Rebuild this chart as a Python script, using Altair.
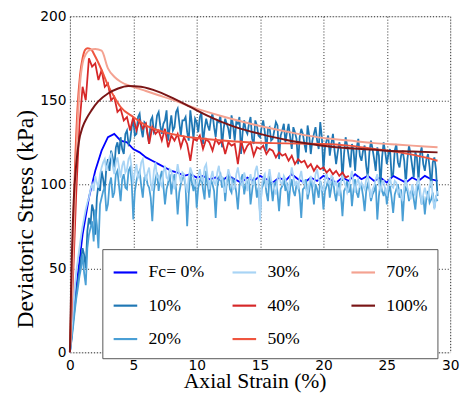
import altair as alt
import pandas as pd

# ---------------- data ----------------
SERIES = ["Fc= 0%", "10%", "20%", "30%", "40%", "50%", "70%", "100%"]
COLORS = {
    "Fc= 0%": "#0000ff",
    "10%": "#1f77b4",
    "20%": "#4a9fd5",
    "30%": "#a8d4f5",
    "40%": "#d62728",
    "50%": "#ef553f",
    "70%": "#f4a291",
    "100%": "#7a1516",
}

# sampling grids of the recorded strain (%)
STRAIN_E = [i / 8 for i in range(233)]    # every 0.125 %
STRAIN_Q40 = [i / 4 for i in range(89)]   # every 0.25 %
STRAIN_H = [i / 2 for i in range(59)]     # every 0.5 %

S0 = [0, 38, 70, 92, 108, 120, 128, 130, 126, 125, 121, 119, 116, 114, 112,
      110, 108, 107, 105, 106, 104, 105, 103, 104, 102, 105, 103, 101, 104, 102,
      105, 103, 101, 104, 102, 106, 103, 101, 104, 102, 105, 103, 101, 104, 102,
      106, 103, 105, 102, 104, 101, 105, 103, 101, 104, 102, 105, 103, 102]

S10 = [0, 8, 18, 26, 35, 42, 48, 55,
       62, 58, 50, 72, 80, 76, 88, 84,
       70, 92, 100, 96, 108, 103, 96, 110,
       115, 108, 120, 116, 110, 122, 125, 118,
       128, 121, 118, 130, 132, 124, 126, 134,
       138, 129, 130, 140, 142, 133, 128, 137,
       136, 130, 124, 138, 140, 131, 133, 141,
       143, 135, 130, 136, 138, 144, 126, 134,
       141, 132, 134, 143, 145, 137, 129, 138,
       138, 140, 131, 126, 144, 136, 127, 139,
       137, 131, 140, 143, 124, 133, 139, 135,
       132, 139, 142, 134, 128, 138, 137, 141,
       122, 133, 139, 136, 133, 127, 141, 135,
       126, 137, 136, 140, 118, 131, 138, 132,
       130, 136, 140, 127, 124, 138, 135, 129,
       128, 134, 138, 131, 120, 133, 134, 126,
       127, 132, 137, 135, 115, 129, 132, 136,
       125, 131, 136, 128, 121, 134, 131, 127,
       112, 128, 133, 130, 124, 119, 135, 129,
       118, 126, 130, 134, 126, 121, 137, 128,
       108, 122, 126, 129, 117, 124, 130, 120,
       112, 119, 125, 121, 102, 118, 128, 123,
       116, 110, 124, 120, 108, 122, 127, 117,
       114, 120, 123, 111, 104, 119, 126, 121,
       115, 108, 122, 117, 99, 116, 125, 119,
       112, 118, 121, 105, 106, 120, 124, 113,
       110, 117, 120, 114, 100, 115, 123, 118,
       111, 104, 119, 116, 102, 118, 122, 112,
       108, 115, 118, 110, 98, 113, 116, 109,
       93]

S20 = [0, 7, 15, 24, 32, 38, 45, 50,
       58, 47, 40, 62, 70, 74, 78, 66,
       85, 76, 62, 88, 92, 96, 98, 84,
       88, 100, 104, 92, 95, 106, 108, 99,
       90, 103, 106, 98, 97, 108, 110, 101,
       79, 96, 102, 106, 108, 99, 92, 104,
       105, 100, 98, 92, 78, 96, 103, 107,
       96, 104, 108, 99, 88, 97, 101, 106,
       94, 102, 106, 97, 82, 95, 100, 104,
       104, 99, 75, 94, 107, 101, 96, 103,
       86, 98, 102, 105, 97, 91, 108, 100,
       92, 103, 100, 96, 80, 98, 104, 106,
       98, 104, 90, 101, 106, 97, 95, 103,
       101, 95, 85, 99, 103, 106, 94, 100,
       99, 104, 88, 96, 104, 101, 92, 98,
       82, 97, 100, 104, 95, 90, 105, 99,
       90, 99, 102, 95, 84, 97, 99, 104,
       96, 101, 87, 98, 103, 96, 93, 100,
       100, 94, 80, 97, 98, 103, 91, 96,
       104, 97, 88, 100, 97, 92, 102, 98,
       85, 96, 99, 103, 92, 98, 104, 95,
       90, 98, 101, 94, 81, 96, 98, 102,
       95, 100, 87, 97, 103, 95, 92, 99,
       99, 93, 84, 96, 100, 97, 90, 94,
       96, 100, 79, 93, 101, 96, 93, 98,
       88, 95, 99, 92, 83, 94, 97, 100,
       92, 97, 78, 94, 98, 96, 90, 95,
       97, 91, 85, 96, 100, 94, 88, 93,
       82, 92, 96, 89, 91, 95, 86, 92,
       90]

S30 = [0, 12, 25, 37, 48, 55, 62, 69,
       75, 80, 85, 89, 92, 97, 100, 96,
       105, 101, 98, 106, 110, 113, 115, 108,
       112, 116, 118, 111, 106, 113, 116, 110,
       104, 111, 114, 107, 109, 115, 117, 109,
       100, 108, 112, 104, 106, 113, 115, 107,
       102, 107, 110, 101, 96, 108, 113, 104,
       105, 101, 99, 107, 111, 104, 103, 109,
       108, 102, 97, 105, 112, 106, 101, 107,
       106, 100, 95, 104, 110, 107, 104, 99,
       99, 105, 109, 103, 102, 110, 112, 104,
       97, 104, 108, 101, 100, 107, 111, 103,
       104, 99, 95, 103, 109, 105, 102, 97,
       98, 106, 110, 104, 101, 99, 107, 103,
       96, 102, 106, 100, 100, 108, 111, 104,
       78, 99, 104, 106, 98, 103, 109, 102,
       101, 97, 94, 103, 107, 101, 100, 105,
       103, 99, 96, 104, 110, 105, 99, 102,
       97, 104, 108, 101, 102, 97, 94, 100,
       105, 101, 99, 106, 109, 103, 101, 97,
       96, 103, 107, 101, 100, 105, 104, 99,
       102, 97, 93, 101, 106, 102, 99, 95,
       98, 104, 108, 100, 95, 101, 103, 98,
       101, 99, 97, 103, 105, 98, 92, 97,
       99, 103, 106, 100, 96, 101, 102, 96,
       94, 100, 104, 99, 98, 102, 101, 95,
       97, 93, 90, 99, 103, 98, 95, 91,
       100, 96, 93, 101, 104, 97, 88, 94,
       98, 94, 91, 99, 102, 93, 85, 92,
       96]

S40 = [0, 45, 95, 135,
       158, 150, 175, 170,
       172, 162, 168, 158,
       160, 150, 152, 143,
       145, 138, 140, 132,
       140, 132, 138, 133,
       136, 124, 134, 130,
       132, 126, 133, 122,
       129, 126, 130, 122,
       128, 124, 114, 127,
       126, 129, 121, 127,
       125, 120, 127, 124,
       126, 118, 125, 123,
       124, 112, 126, 119,
       123, 125, 117, 122,
       121, 123, 118, 121,
       120, 116, 119, 117,
       118, 114, 117, 112,
       115, 113, 114, 110,
       112, 108, 111, 109,
       110, 107, 109, 106,
       108, 105, 107, 104,
       105]

S50_X = [0, 0.2, 0.4, 0.6, 0.8, 1.0, 1.2, 1.4, 1.7, 2.0, 2.5, 3.0, 3.5, 4, 5, 6,
         7, 8, 9, 10, 12, 14, 16, 18, 20, 22, 24, 26, 28, 29]
S50_Y = [0, 55, 110, 145, 165, 175, 180, 181, 180, 176, 168, 159, 152, 146, 140,
         135, 132, 130, 128.5, 127.5, 126, 125, 124.5, 124.2, 124, 123, 121, 119,
         116, 114]

S70_X = [0, 0.2, 0.4, 0.6, 0.8, 1.0, 1.3, 1.6, 2.0, 2.5, 3.0, 3.5, 4, 5, 6, 7,
         8, 10, 12, 14, 16, 18, 20, 22, 24, 26, 28, 29]
S70_Y = [0, 45, 95, 135, 160, 172, 178, 180, 180.5, 179.5, 169, 164, 161, 158,
         155.5, 153, 150.5, 145, 140.5, 136.5, 133, 130, 127.5, 126, 124.5, 123.5,
         122.5, 122]

S100_X = [0, 0.1, 0.3, 0.5, 0.7, 1.0, 1.3, 1.7, 2.2, 3.0, 3.8, 4.6, 5.6, 7, 8.2,
          9.5, 10.8, 12, 13.5, 15, 17, 19, 21, 23, 25, 27, 29]
S100_Y = [0, 40, 90, 112, 125, 134, 139, 144, 149, 154, 157, 158.5, 158, 155,
          151, 146, 141, 137, 133, 130, 126.5, 124, 122, 121, 120, 119.5, 119]

RECORDS = [
    ("Fc= 0%", STRAIN_H, S0, False),
    ("10%", STRAIN_E, S10, False),
    ("20%", STRAIN_E, S20, False),
    ("30%", STRAIN_E, S30, False),
    ("40%", STRAIN_Q40, S40, False),
    ("50%", S50_X, S50_Y, True),
    ("70%", S70_X, S70_Y, True),
    ("100%", S100_X, S100_Y, True),
]

SERIF = "Liberation Serif"

# ---------------- chart ----------------
color_scale = alt.Scale(domain=SERIES, range=[COLORS[s] for s in SERIES])

legend = alt.Legend(
    title=None, orient="none", legendX=33, legendY=237, columns=3,
    direction="vertical",
    symbolType="stroke", symbolSize=576, symbolStrokeWidth=2.2,
    labelFont=SERIF, labelFontSize=18, labelColor="black",
    labelOffset=10, columnPadding=24, rowPadding=11, padding=10,
    strokeColor="#555555", fillColor="white", gridAlign="all",
    labelLimit=200,
)

grid_kw = dict(grid=True, gridDash=[1, 2], gridColor="black", gridWidth=1,
               gridOpacity=0.85, ticks=False, domain=False,
               labelFont="DejaVu Sans", labelFontSize=14, labelColor="black",
               labelFlush=False, labelOverlap=False,
               titleFont=SERIF, titleFontWeight="normal", titleColor="black")

x_enc = alt.X("strain:Q", scale=alt.Scale(domain=[0, 30], nice=False),
              axis=alt.Axis(values=[0, 5, 10, 15, 20, 25, 30], labelPadding=6,
                            title="Axial Strain (%)", titleFontSize=22,
                            titleX=188, titleY=36, titleBaseline="alphabetic",
                            **grid_kw))
y_enc = alt.Y("stress:Q", scale=alt.Scale(domain=[0, 200], nice=False),
              axis=alt.Axis(values=[0, 50, 100, 150, 200], labelPadding=4,
                            title="Deviatoric Stress (kPa)", titleFontSize=24,
                            titleX=-38, titleY=206,
                            titleBaseline="alphabetic", titleAngle=270,
                            **grid_kw))

layers = []
for name, xs, ys, smooth in RECORDS:
    df = pd.DataFrame({"strain": xs, "stress": ys, "series": name})
    mark = alt.Chart(df).mark_line(strokeWidth=2 if smooth else 1.8,
                                   interpolate="monotone" if smooth else "linear")
    layers.append(mark.encode(
        x=x_enc, y=y_enc,
        color=alt.Color("series:N", scale=color_scale, legend=legend),
    ))

chart = alt.layer(*layers).properties(
    width=387, height=342,
    autosize=alt.AutoSizeParams(type="none"),
    padding={"left": 63, "top": 5, "right": 12, "bottom": 38},
).configure_view(stroke="black", strokeWidth=1.5).configure(background="white")

chart.save("out.html", embed_options={"renderer": "svg", "actions": False})
